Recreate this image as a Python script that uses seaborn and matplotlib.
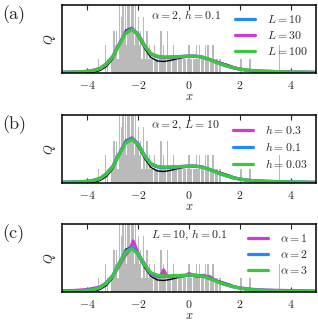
import numpy as np
import matplotlib
matplotlib.use("Agg")
import matplotlib.pyplot as plt
import seaborn as sns

# ---- data ----
# histogram of the samples: counts in bins of width 0.05, centres -3.60 ... 3.60
bin_centres = np.round(np.linspace(-3.6, 3.6, 145), 2)
bin_counts = [
    0, 1, 0, 0, 0, 0, 2, 0, 1, 0, 0, 1, 1, 3, 2, 3, 1, 5, 2, 4,   # -3.60 .. -2.65
    5, 3, 6, 2, 5, 6, 3, 5, 6, 2, 5, 3, 4, 2, 3, 1, 4, 2, 1, 3,   # -2.60 .. -1.65
    1, 2, 1, 1, 0, 2, 1, 1, 0, 1, 3, 1, 2, 1, 0, 3, 1, 1, 0, 1,   # -1.60 .. -0.65
    2, 1, 1, 0, 1, 1, 1, 0, 1, 1, 0, 1, 2, 1, 1, 0, 1, 1, 2, 1,   # -0.60 ..  0.35
    2, 0, 1, 1, 0, 2, 1, 2, 0, 1, 1, 2, 0, 1, 1, 0, 1, 1, 0, 0,   #  0.40 ..  1.35
    0, 0, 0, 0, 0, 0, 0, 0, 0, 0, 0, 0, 0, 1, 0, 0, 0, 0, 0, 0,   #  1.40 ..  2.35
    1, 0, 0, 0, 0, 0, 0, 0, 0, 0, 0, 0, 0, 0, 0, 0, 0, 0, 0, 0,   #  2.40 ..  3.35
    0, 0, 0, 2, 0,                                                #  3.40 ..  3.60
]

x_grid = np.linspace(-5, 5, 41)

q_true = [0.00, 0.00, 0.00, 0.01, 0.02, 0.06, 0.18, 0.46, 1.00, 2.00, 3.04, 3.25, 2.57,
          1.75, 1.11, 0.86, 0.82, 0.89, 1.00, 1.09, 1.14, 1.14, 1.11, 1.02, 0.89, 0.75,
          0.61, 0.45, 0.31, 0.19, 0.11, 0.06, 0.03, 0.01, 0.00, 0.00, 0.00, 0.00, 0.00,
          0.00, 0.00]
# alpha=2, L=10, h=0.1 (appears in all three panels)
q_base = [0.05, 0.06, 0.07, 0.09, 0.12, 0.19, 0.33, 0.66, 1.18, 2.06, 2.90, 3.18, 2.76,
          1.95, 1.35, 1.15, 1.10, 1.12, 1.15, 1.18, 1.20, 1.20, 1.15, 1.01, 0.83, 0.65,
          0.50, 0.37, 0.28, 0.21, 0.17, 0.14, 0.12, 0.11, 0.09, 0.09, 0.07, 0.06, 0.06,
          0.05, 0.04]
q_L30 = [0.05, 0.06, 0.07, 0.09, 0.12, 0.19, 0.32, 0.65, 1.16, 2.03, 2.86, 3.13, 2.73,
         1.94, 1.37, 1.18, 1.12, 1.13, 1.15, 1.18, 1.20, 1.20, 1.14, 1.00, 0.82, 0.64,
         0.50, 0.37, 0.28, 0.21, 0.17, 0.14, 0.12, 0.11, 0.09, 0.09, 0.07, 0.06, 0.06,
         0.05, 0.04]
q_L100 = [0.05, 0.06, 0.07, 0.09, 0.12, 0.19, 0.32, 0.64, 1.14, 2.00, 2.82, 3.09, 2.71,
          1.93, 1.39, 1.20, 1.14, 1.14, 1.16, 1.18, 1.20, 1.20, 1.14, 1.00, 0.82, 0.64,
          0.50, 0.37, 0.28, 0.21, 0.17, 0.14, 0.12, 0.11, 0.09, 0.09, 0.07, 0.06, 0.06,
          0.05, 0.04]
q_h03 = [0.05, 0.06, 0.07, 0.09, 0.12, 0.19, 0.33, 0.66, 1.18, 2.08, 2.93, 3.22, 2.78,
         1.96, 1.36, 1.16, 1.11, 1.12, 1.15, 1.18, 1.20, 1.20, 1.15, 1.01, 0.83, 0.65,
         0.50, 0.37, 0.28, 0.21, 0.17, 0.14, 0.12, 0.11, 0.09, 0.09, 0.07, 0.06, 0.06,
         0.05, 0.04]
q_h003 = [0.05, 0.06, 0.07, 0.09, 0.12, 0.19, 0.32, 0.64, 1.15, 2.01, 2.83, 3.10, 2.72,
          1.94, 1.39, 1.19, 1.14, 1.14, 1.16, 1.18, 1.20, 1.20, 1.14, 1.00, 0.82, 0.64,
          0.50, 0.37, 0.28, 0.21, 0.17, 0.14, 0.12, 0.11, 0.09, 0.09, 0.07, 0.06, 0.06,
          0.05, 0.04]
q_a3 = [0.04, 0.05, 0.06, 0.08, 0.11, 0.18, 0.31, 0.63, 1.13, 1.99, 2.81, 3.08, 2.70,
        1.92, 1.38, 1.20, 1.15, 1.15, 1.17, 1.19, 1.21, 1.20, 1.14, 1.00, 0.82, 0.64,
        0.50, 0.37, 0.28, 0.21, 0.16, 0.13, 0.11, 0.10, 0.08, 0.07, 0.06, 0.05, 0.05,
        0.04, 0.04]
# alpha=1 is wiggly, read on a finer grid
x_a1 = [-5, -4.5, -4, -3.5, -3.25, -3, -2.8, -2.6,
        -2.5, -2.4, -2.3, -2.2, -2.1, -2.0, -1.9, -1.8, -1.7, -1.6, -1.5, -1.4,
        -1.3, -1.2, -1.1, -1.0, -0.9, -0.8, -0.7, -0.6, -0.5, -0.4, -0.3, -0.2,
        -0.1, 0.0, 0.1, 0.2, 0.3, 0.4, 0.5, 0.6, 0.7, 0.8, 0.9, 1.0,
        1.25, 1.5, 1.75, 2, 2.5, 3, 3.5, 4, 4.5, 5]
q_a1 = [0.09, 0.11, 0.18, 0.36, 0.64, 1.14, 1.71, 2.36,
        2.64, 2.86, 3.14, 3.64, 3.21, 2.71, 2.36, 2.14, 1.86, 1.50, 1.29, 1.21,
        1.11, 1.07, 1.21, 1.57, 1.21, 1.11, 1.11, 1.18, 1.18, 1.11, 1.11, 1.14,
        1.21, 1.32, 1.25, 1.14, 1.11, 1.11, 1.18, 1.18, 1.11, 1.11, 1.00, 0.86,
        0.64, 0.50, 0.38, 0.29, 0.19, 0.14, 0.12, 0.10, 0.09, 0.07]

tick_vals = [-4, -2, 0, 2, 4]
tick_labels = ["$-4$", "$-2$", "$0$", "$2$", "$4$"]

blue, magenta, green = "#1e8cff", "#d03cd0", "#3cc83c"

samples = np.repeat(bin_centres, bin_counts)

panels = [
    ("(a)", r"$\alpha=2,\, h=0.1$",
     [(x_grid, q_base, blue, r"$L=10$"), (x_grid, q_L30, magenta, r"$L=30$"),
      (x_grid, q_L100, green, r"$L=100$")]),
    ("(b)", r"$\alpha=2,\, L=10$",
     [(x_grid, q_h03, magenta, r"$h=0.3$"), (x_grid, q_base, blue, r"$h=0.1$"),
      (x_grid, q_h003, green, r"$h=0.03$")]),
    ("(c)", r"$L=10,\, h=0.1$",
     [(x_a1, q_a1, magenta, r"$\alpha=1$"), (x_grid, q_base, blue, r"$\alpha=2$"),
      (x_grid, q_a3, green, r"$\alpha=3$")]),
]

sns.set_style("ticks")
plt.rcParams['mathtext.fontset'] = 'cm'
plt.rcParams['font.family'] = ['cmr10', 'DejaVu Serif']
plt.rcParams['axes.unicode_minus'] = False

fig = plt.figure(figsize=(3.18, 3.21), dpi=100)
tops = [5, 115, 224]

for (tag, note, curves), top in zip(panels, tops):
    ax = fig.add_axes([62 / 318, 1 - (top + 68) / 321, 254 / 318, 68 / 321])
    sns.histplot(x=samples, binwidth=0.05, binrange=(-5.025, 5.025), color="#bababa",
                 alpha=1, linewidth=0, edgecolor="none", shrink=1.0, ax=ax)
    sns.lineplot(x=x_grid, y=q_true, color="black", lw=1.0, ax=ax)
    for xs, ys, c, lab in curves:
        sns.lineplot(x=xs, y=ys, color=c, lw=2.3, label=lab, ax=ax)

    ax.set_xlim(-5, 5)
    ax.set_ylim(0, 4.85)
    ax.set_xticks(tick_vals)
    ax.set_xticklabels(tick_labels)
    ax.set_yticks([])
    ax.tick_params(axis='x', direction='in', top=True, length=3.5, width=0.8,
                   labelsize=8.5, pad=4)
    for s in ax.spines.values():
        s.set_linewidth(1.1)
        s.set_color("black")
    ax.set_xlabel("$x$", fontsize=9, labelpad=0)
    ax.set_ylabel("$Q$", fontsize=9, labelpad=3)
    ax.text(0.35, 0.845, note, transform=ax.transAxes, fontsize=8.5, va="center")
    ax.legend(loc="upper right", frameon=False, fontsize=8.5, handlelength=1.7,
              handletextpad=1.0, labelspacing=0.32, borderaxespad=0.3)
    fig.text(0.006, 1 - (top + 10) / 321, tag, fontsize=13, va="center")

fig.savefig("out.png", dpi=100)
